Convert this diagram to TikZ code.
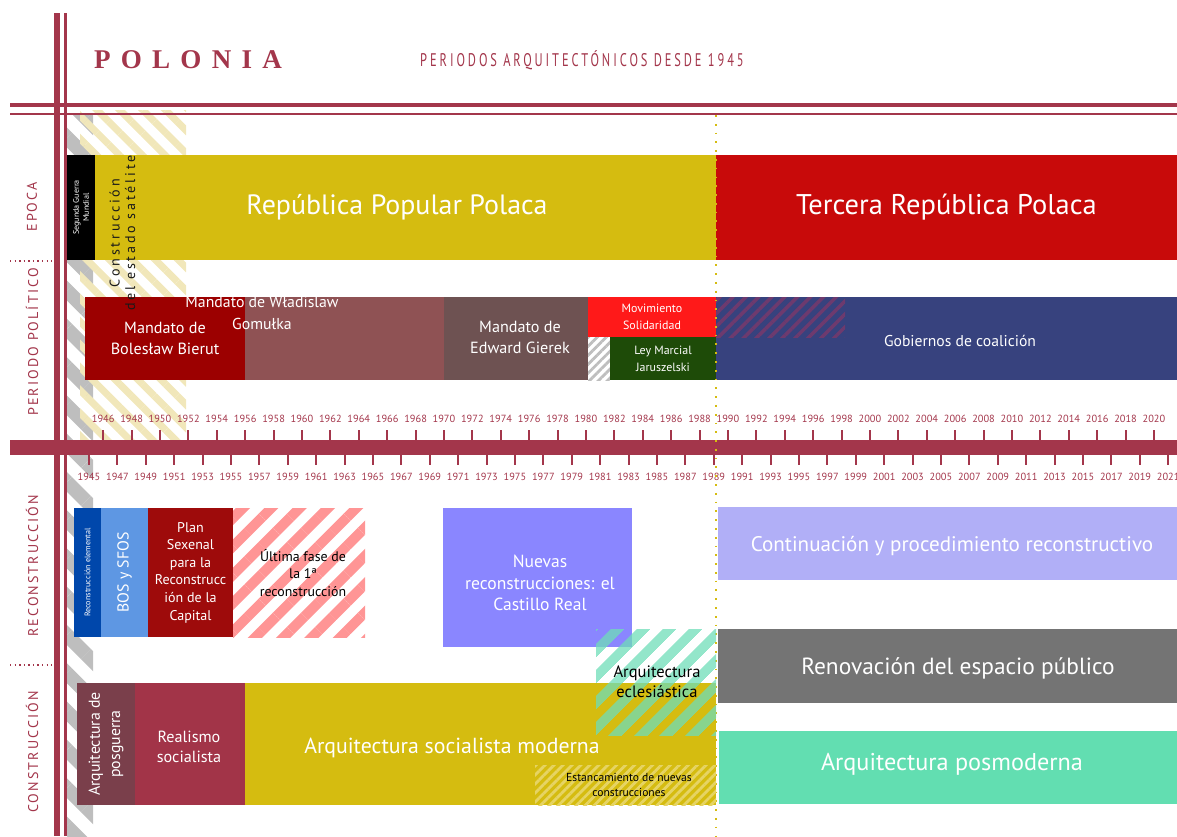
\documentclass[tikz,border=0pt]{standalone}
\usepackage{fontspec}
\setmainfont{PT Sans}
\newfontfamily\titlefont[LetterSpace=38]{Liberation Serif}
\newfontfamily\subfont[FakeStretch=0.68,LetterSpace=16]{PT Sans}
\newfontfamily\rowfont[LetterSpace=15]{PT Sans}
\newfontfamily\satfont[LetterSpace=20]{PT Sans}
\usetikzlibrary{patterns.meta}

\definecolor{polred}{HTML}{A3364B}
\definecolor{amarillo}{HTML}{D5BC10}
\definecolor{amarillocl}{HTML}{F1E7BA}
\definecolor{rojo}{HTML}{C80A0A}
\definecolor{gris}{HTML}{BEBEBE}
\definecolor{bierut}{HTML}{9C0000}
\definecolor{gomulka}{HTML}{8F5254}
\definecolor{gierek}{HTML}{6E5252}
\definecolor{solidar}{HTML}{FF1919}
\definecolor{marcial}{HTML}{1E4B08}
\definecolor{coalicion}{HTML}{37427E}
\definecolor{morado}{HTML}{6E3A6E}
\definecolor{elemental}{HTML}{0047AB}
\definecolor{bos}{HTML}{5E97E3}
\definecolor{plan}{HTML}{9E0B0B}
\definecolor{rosa}{HTML}{FF9595}
\definecolor{nuevas}{HTML}{8A86FF}
\definecolor{continua}{HTML}{B1AFF7}
\definecolor{renova}{HTML}{747474}
\definecolor{posguerra}{HTML}{7A3F4B}
\definecolor{realismo}{HTML}{A23448}
\definecolor{posmod}{HTML}{62DEB1}
\definecolor{verde}{HTML}{6FDDB8}
\definecolor{estanca}{HTML}{E6D464}

\begin{document}
\begin{tikzpicture}[x=1cm, y=-1cm,
    box/.style={inner sep=0pt, outer sep=0pt, align=center, text=white},
    lbl/.style={inner sep=0pt, outer sep=0pt, align=center},
    fila/.style={inner sep=0pt, rotate=90, text=polred, font=\rowfont\fontsize{4pt}{4.6pt}\selectfont},
    anio/.style={inner sep=0pt, text=polred, font=\fontsize{2.95pt}{3.5pt}\selectfont},
    marca/.style={polred, line width=0.6pt},
    puntos/.style={polred, line width=0.4pt, dash pattern=on 0.4pt off 0.9pt}]
    \useasboundingbox (0,0) rectangle (11.77,8.36);
    \node[lbl, text=polred, font=\titlefont\bfseries\fontsize{7.7pt}{8.4pt}\selectfont] (titulo) at (1.88, 0.60) {POLONIA};
    \node[lbl, text=polred, font=\subfont\fontsize{5.2pt}{6pt}\selectfont] (subtitulo) at (5.82, 0.60) {PERIODOS ARQUITECTÓNICOS DESDE 1945};
    \node[box, minimum width=0.26cm, minimum height=7.21cm, pattern={Lines[angle=-45, distance=7.7pt, line width=4pt]}, pattern color=gris] (rayagris) at (0.80, 4.755) {};
    \node[box, minimum width=1.06cm, minimum height=3.30cm, pattern={Lines[angle=-45, distance=4.6pt, line width=2pt]}, pattern color=amarillocl] (rayaamarilla) at (1.33, 2.75) {};
    \draw[polred, line width=1.7pt] (0.57,0.13) -- (0.57,8.36);
    \draw[polred, line width=0.6pt] (0.655,0.13) -- (0.655,8.36);
    \draw[polred, line width=1.3pt] (0.10,1.05) -- (11.77,1.05);
    \draw[polred, line width=0.6pt] (0.10,1.14) -- (11.77,1.14);
    \draw[puntos] (0.10,2.61) -- (0.52,2.61);
    \draw[puntos] (0.10,6.65) -- (0.52,6.65);
    \node[fila] (epoca) at (0.32, 2.07) {EPOCA};
    \node[fila] (politico) at (0.32, 3.42) {PERIODO POLÍTICO};
    \node[fila] (reconstruccion) at (0.32, 5.66) {RECONSTRUCCIÓN};
    \node[fila] (construccion) at (0.32, 7.52) {CONSTRUCCIÓN};
    \node[box, fill=amarillo, minimum width=6.38cm, minimum height=1.05cm, font=\fontsize{7.95pt}{9.5pt}\selectfont] (rpp) at (3.97, 2.075) {República Popular Polaca};
    \node[box, fill=black, minimum width=0.28cm, minimum height=1.05cm] (guerra) at (0.81, 2.075) {};
    \node[lbl, text=white, rotate=90, font=\fontsize{2.3pt}{2.8pt}\selectfont] (guerratxt) at (0.81, 2.075) {Segunda Guerra\\Mundial};
    \node[box, fill=rojo, minimum width=4.61cm, minimum height=1.05cm, font=\fontsize{8.1pt}{9.7pt}\selectfont] (tercera) at (9.465, 2.075) {Tercera República Polaca};
    \node[box, fill=bierut, minimum width=1.60cm, minimum height=0.83cm, font=\fontsize{4.6pt}{6pt}\selectfont] (bierut) at (1.65, 3.385) {Mandato de\\Bolesław Bierut};
    \node[box, fill=gomulka, minimum width=1.99cm, minimum height=0.83cm] (gomulka) at (3.445, 3.385) {};
    \node[lbl, text=white, font=\fontsize{4.5pt}{6pt}\selectfont] (gomulkatxt) at (2.62, 3.13) {Mandato de Władislaw\\Gomułka};
    \node[lbl, rotate=90, text=black!90, font=\satfont\fontsize{4pt}{4.4pt}\selectfont] (satelite) at (1.225, 2.33) {Construcción\\del estado satélite};
    \node[box, fill=gierek, minimum width=1.44cm, minimum height=0.83cm] (gierek) at (5.16, 3.385) {};
    \node[lbl, text=white, font=\fontsize{4.6pt}{6pt}\selectfont] (gierektxt) at (5.20, 3.37) {Mandato de\\Edward Gierek};
    \node[box, fill=solidar, minimum width=1.28cm, minimum height=0.40cm, font=\fontsize{3.4pt}{4.8pt}\selectfont] (solidaridad) at (6.52, 3.17) {Movimiento\\Solidaridad};
    \node[box, minimum width=0.22cm, minimum height=0.43cm, pattern={Lines[angle=45, distance=1.8pt, line width=0.8pt]}, pattern color=gris] (rayaley) at (5.99, 3.585) {};
    \node[box, fill=marcial, minimum width=1.06cm, minimum height=0.43cm, font=\fontsize{3.4pt}{4.8pt}\selectfont] (ley) at (6.63, 3.585) {Ley Marcial\\Jaruszelski};
    \node[box, fill=coalicion, minimum width=4.61cm, minimum height=0.83cm] (coalicion) at (9.465, 3.385) {};
    \node[box, minimum width=1.29cm, minimum height=0.40cm, pattern={Lines[angle=45, distance=2.6pt, line width=1pt]}, pattern color=morado] (rayacoal) at (7.805, 3.17) {};
    \node[lbl, text=white, font=\fontsize{4.45pt}{5.3pt}\selectfont] (coaltxt) at (9.60, 3.41) {Gobiernos de coalición};
    \fill[polred] (0.10,4.40) rectangle (11.77,4.55);
    \foreach \yr in {1946,1948,...,2020} {
        \pgfmathsetmacro{\xx}{0.89+(\yr-1945)*0.142}
        \draw[marca] (\xx,4.30) -- (\xx,4.40);
        \node[anio] (y\yr) at (\xx,4.19) {\yr};
    }
    \foreach \yr in {1945,1947,...,2021} {
        \pgfmathsetmacro{\xx}{0.89+(\yr-1945)*0.142}
        \draw[marca] (\xx,4.55) -- (\xx,4.65);
        \node[anio] (y\yr) at (\xx,4.77) {\yr};
    }
    \draw[amarillo, dotted, line width=0.5pt] (7.16,1.15) -- (7.16,8.36);
    \node[box, fill=elemental, minimum width=0.27cm, minimum height=1.29cm] (elemental) at (0.875, 5.725) {};
    \node[lbl, text=white, rotate=90, font=\fontsize{2.3pt}{2.8pt}\selectfont] (elementaltxt) at (0.875, 5.725) {Reconstrucción elemental};
    \node[box, fill=bos, minimum width=0.47cm, minimum height=1.29cm] (bos) at (1.245, 5.725) {};
    \node[lbl, text=white, rotate=90, font=\fontsize{4.5pt}{5pt}\selectfont] (bostxt) at (1.245, 5.725) {BOS y SFOS};
    \node[box, fill=plan, minimum width=0.85cm, minimum height=1.29cm, font=\fontsize{4pt}{5pt}\selectfont] (plan) at (1.905, 5.725) {Plan\\Sexenal\\para la\\Reconstrucc\\ión de la\\Capital};
    \node[box, minimum width=1.32cm, minimum height=1.29cm, pattern={Lines[angle=45, distance=5.7pt, line width=2.85pt]}, pattern color=rosa] (ultima) at (2.99, 5.725) {};
    \node[lbl, text=black, font=\fontsize{3.95pt}{5.1pt}\selectfont] (ultimatxt) at (3.03, 5.73) {Última fase de\\la 1ª\\reconstrucción};
    \node[box, fill=nuevas, minimum width=1.89cm, minimum height=1.39cm] (nuevas) at (5.375, 5.775) {};
    \node[lbl, text=white, font=\fontsize{5pt}{6.2pt}\selectfont] (nuevastxt) at (5.40, 5.83) {Nuevas\\reconstrucciones: el\\Castillo Real};
    \node[box, fill=continua, minimum width=4.59cm, minimum height=0.73cm] (continua) at (9.475, 5.435) {};
    \node[lbl, text=white, font=\fontsize{6pt}{7.2pt}\selectfont] (continuatxt) at (9.52, 5.46) {Continuación y procedimiento reconstructivo};
    \node[box, fill=renova, minimum width=4.59cm, minimum height=0.74cm] (renova) at (9.475, 6.66) {};
    \node[lbl, text=white, font=\fontsize{6.65pt}{7.9pt}\selectfont] (renovatxt) at (9.58, 6.68) {Renovación del espacio público};
    \node[box, fill=posguerra, minimum width=0.58cm, minimum height=1.22cm] (posguerra) at (1.06, 7.44) {};
    \node[lbl, text=white, rotate=90, font=\fontsize{4.5pt}{5.8pt}\selectfont] (posguerratxt) at (1.06, 7.44) {Arquitectura de\\posguerra};
    \node[box, fill=realismo, minimum width=1.10cm, minimum height=1.22cm] (realismo) at (1.90, 7.44) {};
    \node[lbl, text=white, font=\fontsize{4.6pt}{5.8pt}\selectfont] (realismotxt) at (1.89, 7.47) {Realismo\\socialista};
    \node[box, fill=amarillo, minimum width=4.71cm, minimum height=1.22cm] (moderna) at (4.805, 7.44) {};
    \node[lbl, text=white, font=\fontsize{6.2pt}{7.4pt}\selectfont] (modernatxt) at (4.52, 7.48) {Arquitectura socialista moderna};
    \node[box, minimum width=1.81cm, minimum height=0.40cm, pattern={Lines[angle=45, distance=1.8pt, line width=0.8pt]}, pattern color=estanca] (estanca) at (6.255, 7.85) {};
    \node[lbl, text=black, font=\fontsize{3.3pt}{4.5pt}\selectfont] (estancatxt) at (6.29, 7.85) {Estancamiento de nuevas\\construcciones};
    \node[box, opacity=0.75, minimum width=1.20cm, minimum height=1.06cm, pattern={Lines[angle=45, distance=5.4pt, line width=2.85pt]}, pattern color=verde] (eclesiastica) at (6.56, 6.82) {};
    \node[lbl, text=black, font=\fontsize{4.7pt}{5.6pt}\selectfont] (eclesiasticatxt) at (6.57, 6.82) {Arquitectura\\eclesiástica};
    \node[box, fill=posmod, minimum width=4.58cm, minimum height=0.73cm] (posmod) at (9.48, 7.675) {};
    \node[lbl, text=white, font=\fontsize{6.9pt}{8.2pt}\selectfont] (posmodtxt) at (9.52, 7.64) {Arquitectura posmoderna};
\end{tikzpicture}
\end{document}
